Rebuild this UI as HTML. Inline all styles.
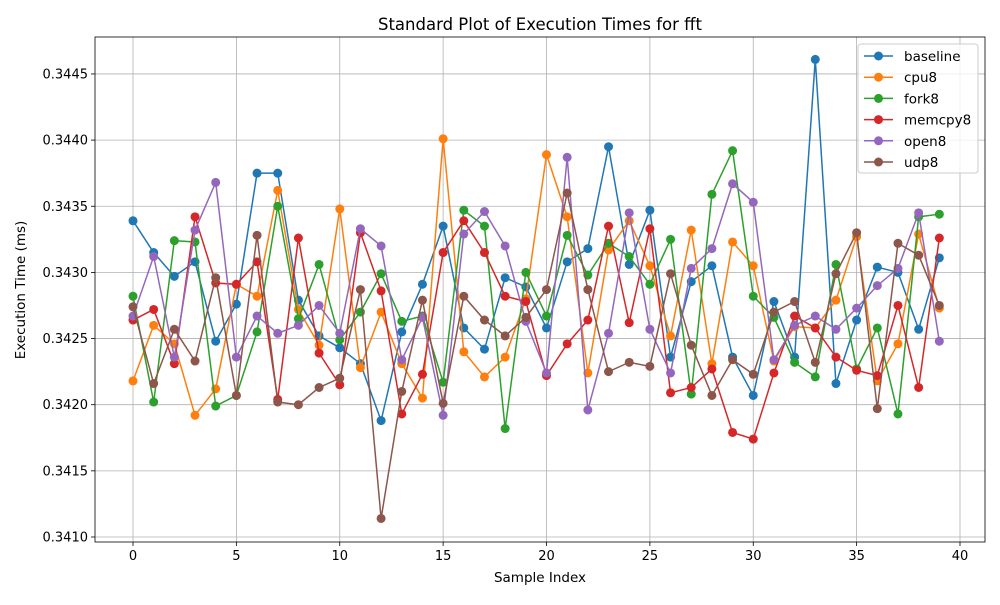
<!DOCTYPE html>
<html><head><meta charset="utf-8"><style>
body{margin:0;background:#fff;font-family:"Liberation Sans","DejaVu Sans",sans-serif}
svg text{font-family:"DejaVu Sans","Liberation Sans",sans-serif}
</style></head><body>
<svg id="chart" width="1000" height="600" xmlns="http://www.w3.org/2000/svg">
<rect width="1000" height="600" fill="#fff"/>
<text x="540" y="30" font-size="16.5" text-anchor="middle">Standard Plot of Execution Times for fft</text>
<g id="grid"></g><g id="series"></g><g id="axes"></g><g id="legend"></g>
<text x="540" y="582" font-size="13.5" text-anchor="middle">Sample Index</text>
<text transform="translate(25,290) rotate(-90)" font-size="13.5" text-anchor="middle">Execution Time (ms)</text>
</svg>
<script>
const seriesNames=["baseline","cpu8","fork8","memcpy8","open8","udp8"];
const colors=["#1f77b4","#ff7f0e","#2ca02c","#d62728","#9467bd","#8c564b"];
const xTicks=[0,5,10,15,20,25,30,35,40];
const yTicks=[0.3410,0.3415,0.3420,0.3425,0.3430,0.3435,0.3440,0.3445];
const baseline=[0.34339,0.34315,0.34297,0.34308,0.34248,0.34276,0.34375,0.34375,0.34279,0.34252,0.34243,0.34231,0.34188,0.34255,0.34291,0.34335,0.34258,0.34242,0.34296,0.34289,0.34258,0.34308,0.34318,0.34395,0.34306,0.34347,0.34236,0.34293,0.34305,0.34236,0.34207,0.34278,0.34236,0.34461,0.34216,0.34264,0.34304,0.34300,0.34257,0.34311];
const cpu8=[0.34218,0.34260,0.34246,0.34192,0.34212,0.34291,0.34282,0.34362,0.34272,0.34245,0.34348,0.34228,0.34270,0.34231,0.34205,0.34401,0.34240,0.34221,0.34236,0.34280,0.34389,0.34342,0.34224,0.34317,0.34339,0.34305,0.34252,0.34332,0.34231,0.34323,0.34305,0.34233,0.34259,0.34258,0.34279,0.34327,0.34218,0.34246,0.34329,0.34273];
const fork8=[0.34282,0.34202,0.34324,0.34323,0.34199,0.34207,0.34255,0.34350,0.34265,0.34306,0.34249,0.34270,0.34299,0.34263,0.34267,0.34217,0.34347,0.34335,0.34182,0.34300,0.34267,0.34328,0.34298,0.34322,0.34312,0.34291,0.34325,0.34208,0.34359,0.34392,0.34282,0.34266,0.34232,0.34221,0.34306,0.34227,0.34258,0.34193,0.34342,0.34344];
const memcpy8=[0.34264,0.34272,0.34231,0.34342,0.34292,0.34291,0.34308,0.34204,0.34326,0.34239,0.34215,0.34330,0.34286,0.34193,0.34223,0.34315,0.34339,0.34315,0.34282,0.34278,0.34222,0.34246,0.34264,0.34335,0.34262,0.34333,0.34209,0.34213,0.34227,0.34179,0.34174,0.34224,0.34267,0.34258,0.34236,0.34226,0.34222,0.34275,0.34213,0.34326];
const open8=[0.34267,0.34312,0.34236,0.34332,0.34368,0.34236,0.34267,0.34254,0.34260,0.34275,0.34254,0.34333,0.34320,0.34234,0.34266,0.34192,0.34329,0.34346,0.34320,0.34263,0.34224,0.34387,0.34196,0.34254,0.34345,0.34257,0.34224,0.34303,0.34318,0.34367,0.34353,0.34234,0.34260,0.34267,0.34257,0.34273,0.34290,0.34303,0.34345,0.34248];
const udp8=[0.34274,0.34216,0.34257,0.34233,0.34296,0.34207,0.34328,0.34202,0.34200,0.34213,0.34220,0.34287,0.34114,0.34210,0.34279,0.34201,0.34282,0.34264,0.34252,0.34266,0.34287,0.34360,0.34287,0.34225,0.34232,0.34229,0.34299,0.34245,0.34207,0.34234,0.34223,0.34270,0.34278,0.34232,0.34299,0.34330,0.34197,0.34322,0.34313,0.34275];
const allSeries=[baseline,cpu8,fork8,memcpy8,open8,udp8];

const NS="http://www.w3.org/2000/svg";
const L=95,R=985,T=37,B=542;
const xS=v=>133+v*(960-133)/40;
const yS=v=>537-(v-0.3410)*132300;
function mk(tag,attrs,parent){const e=document.createElementNS(NS,tag);for(const k in attrs)e.setAttribute(k,attrs[k]);parent.appendChild(e);return e;}
const grid=document.getElementById('grid'),axes=document.getElementById('axes'),ser=document.getElementById('series'),leg=document.getElementById('legend');
xTicks.forEach(t=>{const x=xS(t);
 const g=mk('line',{x1:x,x2:x,y1:T,y2:B,stroke:'#b0b0b0','stroke-width':0.8},grid);
 
 
 mk('line',{x1:x,x2:x,y1:B,y2:B+4,stroke:'#000','stroke-width':0.8},axes);
 const tx=mk('text',{x:x,y:B+18,'font-size':13,'text-anchor':'middle'},axes);tx.textContent=t;
 
 
});
yTicks.forEach(t=>{const y=yS(t);
 const g=mk('line',{x1:L,x2:R,y1:y,y2:y,stroke:'#b0b0b0','stroke-width':0.8},grid);
 
 
 mk('line',{x1:L-4,x2:L,y1:y,y2:y,stroke:'#000','stroke-width':0.8},axes);
 const tx=mk('text',{x:L-7,y:y+4.5,'font-size':13,'text-anchor':'end'},axes);tx.textContent=t.toFixed(4);
 
 
});
const frame=mk('rect',{x:L,y:T,width:R-L,height:B-T,fill:'none',stroke:'#000','stroke-width':0.8},axes);


allSeries.forEach((arr,i)=>{
 const g=mk('g',{},ser);
 
 
 const pts=arr.map((v,j)=>xS(j)+','+yS(v)).join(' ');
 mk('polyline',{points:pts,fill:'none',stroke:colors[i],'stroke-width':1.5},g);
 arr.forEach((v,j)=>{const c=mk('circle',{cx:xS(j),cy:yS(v),r:4.5,fill:colors[i]},g);
  
  });
});
const lb=mk('rect',{x:858,y:44,width:120,height:129,fill:'#fff','fill-opacity':0.8,stroke:'#ccc',rx:3},leg);


seriesNames.forEach((n,i)=>{const y=56+i*21.2;
 const g=mk('g',{},leg);
 
 
 mk('line',{x1:864,x2:893,y1:y,y2:y,stroke:colors[i],'stroke-width':1.5},g);
 mk('circle',{cx:878.5,cy:y,r:4.5,fill:colors[i]},g);
 const t=mk('text',{x:904,y:y+5,'font-size':13.5},g);t.textContent=n;
});
</script>
</body></html>
